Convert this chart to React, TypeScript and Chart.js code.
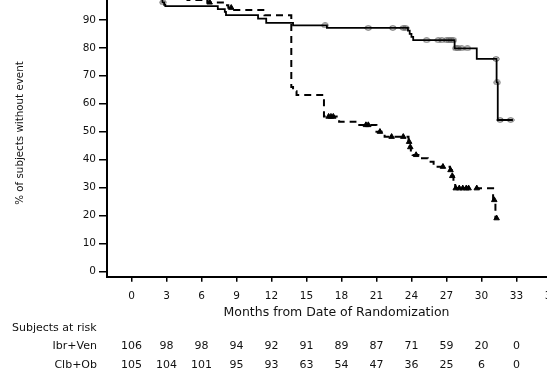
import React, { useEffect, useRef } from "react";
import { Chart, registerables } from "chart.js";

Chart.register(...registerables);

// ---------- data ----------
const riskTimes = [0, 3, 6, 9, 12, 15, 18, 21, 24, 27, 30, 33];
const ibrAtRisk = [106, 98, 98, 94, 92, 91, 89, 87, 71, 59, 20, 0];
const clbAtRisk = [105, 104, 101, 95, 93, 63, 54, 47, 36, 25, 6, 0];
const rowLabels = ["Ibr+Ven", "Clb+Ob"];
const riskTitle = "Subjects at risk";
const xTitle = "Months from Date of Randomization";
const yTitle = "% of subjects without event";

// Ibr+Ven Kaplan-Meier steps (time of drop, survival after drop)
const ibrTimes = [0, 0.5, 1.5, 2.65, 2.8, 2.9, 7.4, 8.0, 8.1, 10.85, 11.55, 13.85, 16.75, 23.7, 23.85, 24.0, 24.15, 27.7, 29.6, 31.3, 31.4, 32.7];
const ibrSurv = [100, 99.1, 98.1, 96.2, 95.3, 94.9, 93.8, 92.8, 91.7, 90.4, 88.9, 88.0, 87.1, 86.1, 85.0, 83.9, 82.7, 79.8, 76.0, 67.6, 54.2, 54.2];
const ibrCensor = [2.7, 16.6, 20.3, 22.4, 23.3, 23.5, 25.3, 26.3, 26.6, 27.0, 27.2, 27.4, 27.6, 27.8, 28.0, 28.3, 28.8, 31.25, 31.35, 31.6, 32.5];

// Clb+Ob Kaplan-Meier steps
const clbTimes = [0, 1.5, 3.0, 4.8, 6.5, 8.1, 8.3, 8.8, 11.3, 11.4, 13.7, 13.85, 14.15, 16.5, 17.8, 19.2, 21.0, 21.7, 23.75, 23.85, 23.95, 24.1, 24.6, 25.4, 25.9, 27.3, 27.45, 27.6, 27.75, 31.0, 31.2, 31.3];
const clbSurv = [100, 99.0, 98.1, 97.1, 96.2, 95.2, 94.3, 93.5, 92.5, 91.6, 66.0, 64.5, 63.1, 55.4, 53.6, 52.4, 50.0, 48.2, 46.4, 44.5, 42.3, 41.7, 40.5, 39.3, 37.5, 36.3, 34.2, 32.1, 29.8, 25.6, 19.1, 19.1];
const clbCensor = [6.7, 8.55, 16.9, 17.1, 17.3, 20.1, 20.3, 21.3, 22.3, 23.3, 23.8, 23.9, 24.4, 26.7, 27.35, 27.5, 27.8, 28.1, 28.4, 28.7, 28.9, 29.6, 31.1, 31.3];

// ---------- layout ----------
const OFF = 11; // canvas is shifted up, top of chart is cropped like the reference
const CW = 600;
const CH = 385;
const AREA_LEFT = 107;
const AREA_RIGHT = 566;
const AREA_BOTTOM = 287.7;
const FONT = '"DejaVu Sans", Verdana, sans-serif';
const TEXT = "#111";

function survAt(times: number[], surv: number[], t: number) {
  let v = surv[0];
  for (let i = 0; i < times.length; i++) if (times[i] <= t) v = surv[i];
  return v;
}

function makeEllipse() {
  const c = document.createElement("canvas");
  c.width = 8;
  c.height = 6;
  const g = c.getContext("2d")!;
  g.strokeStyle = "#555";
  g.lineWidth = 1;
  g.beginPath();
  g.ellipse(4, 3, 3.2, 2.2, 0, 0, Math.PI * 2);
  g.stroke();
  return c;
}

const extraText = {
  id: "extraText",
  afterDraw(chart: any) {
    const { ctx } = chart;
    const x = chart.scales.x;
    ctx.save();
    ctx.fillStyle = TEXT;
    ctx.textBaseline = "middle";
    // x title
    ctx.font = `12.5px ${FONT}`;
    ctx.textAlign = "center";
    ctx.fillText(xTitle, (x.left + x.right) / 2, 313 + OFF);
    // y title
    ctx.save();
    ctx.translate(20, 133 + OFF);
    ctx.rotate(-Math.PI / 2);
    ctx.font = `10.3px ${FONT}`;
    ctx.fillText(yTitle, 0, 0);
    ctx.restore();
    // risk table
    ctx.font = `11px ${FONT}`;
    ctx.textAlign = "left";
    ctx.fillText(riskTitle, 12, 328 + OFF);
    const rows = [ibrAtRisk, clbAtRisk];
    const rowY = [346, 365];
    rows.forEach((vals, r) => {
      ctx.textAlign = "right";
      ctx.fillText(rowLabels[r], 97, rowY[r] + OFF);
      ctx.textAlign = "center";
      vals.forEach((v, i) => {
        ctx.fillText(String(v), x.getPixelForValue(riskTimes[i]), rowY[r] + OFF);
      });
    });
    ctx.restore();
  },
};

export default function App() {
  const ref = useRef<HTMLCanvasElement>(null);
  useEffect(() => {
    const canvas = ref.current!;
    const ellipse = makeEllipse();
    const chart = new Chart(canvas, {
      type: "line",
      data: {
        datasets: [
          {
            label: "Ibr+Ven",
            data: ibrTimes.map((t, i) => ({ x: t, y: ibrSurv[i] })),
            stepped: "before",
            borderColor: "#000",
            borderWidth: 1.8,
            pointRadius: 0,
            fill: false,
          },
          {
            label: "Clb+Ob",
            data: clbTimes.map((t, i) => ({ x: t, y: clbSurv[i] })),
            stepped: "before",
            borderColor: "#000",
            borderWidth: 2,
            borderDash: [7, 5],
            pointRadius: 0,
            fill: false,
          },
          {
            label: "Ibr+Ven censored",
            data: ibrCensor.map((t) => ({ x: t, y: survAt(ibrTimes, ibrSurv, t) })),
            showLine: false,
            pointStyle: ellipse,
            pointRadius: 3,
          },
          {
            label: "Clb+Ob censored",
            data: clbCensor.map((t) => ({ x: t, y: survAt(clbTimes, clbSurv, t) })),
            showLine: false,
            pointStyle: "triangle",
            pointRadius: 3.2,
            pointBorderWidth: 1,
            pointBorderColor: "#000",
            pointBackgroundColor: "#000",
          },
        ],
      },
      options: {
        animation: false,
        responsive: false,
        events: [],
        layout: { autoPadding: false, padding: { left: 0, top: 0, right: CW - AREA_RIGHT, bottom: 0 } },
        plugins: { legend: { display: false }, tooltip: { enabled: false } },
        scales: {
          x: {
            type: "linear",
            min: -2.1,
            max: 37.25,
            afterFit: (s: any) => {
              s.height = CH - AREA_BOTTOM;
              s.paddingLeft = 0;
              s.paddingRight = 0;
            },
            border: { display: true, color: "#000", width: 2 },
            grid: { drawOnChartArea: false, drawTicks: true, tickLength: 5, color: "#000", lineWidth: 1.5 },
            ticks: {
              stepSize: 3,
              includeBounds: false,
              autoSkip: false,
              maxRotation: 0,
              padding: 8,
              color: TEXT,
              font: { family: FONT, size: 10.5 },
            },
          },
          y: {
            type: "linear",
            min: -1.8,
            max: 101,
            afterFit: (s: any) => {
              s.width = AREA_LEFT;
              s.paddingTop = 0;
              s.paddingBottom = 0;
            },
            border: { display: true, color: "#000", width: 2 },
            grid: { drawOnChartArea: false, drawTicks: true, tickLength: 8, color: "#000", lineWidth: 1.5 },
            ticks: {
              stepSize: 10,
              includeBounds: false,
              padding: 3,
              color: TEXT,
              font: { family: FONT, size: 10.5 },
            },
          },
        },
      },
      plugins: [extraText],
    } as any);
    return () => chart.destroy();
  }, []);
  return (
    <div style={{ position: "fixed", left: 0, top: 0, width: 547, height: 374, overflow: "hidden", background: "#fff" }}>
      <div style={{ position: "absolute", left: 0, top: -OFF, width: CW, height: CH }}>
        <canvas ref={ref} width={CW} height={CH} style={{ display: "block" }} />
      </div>
    </div>
  );
}
